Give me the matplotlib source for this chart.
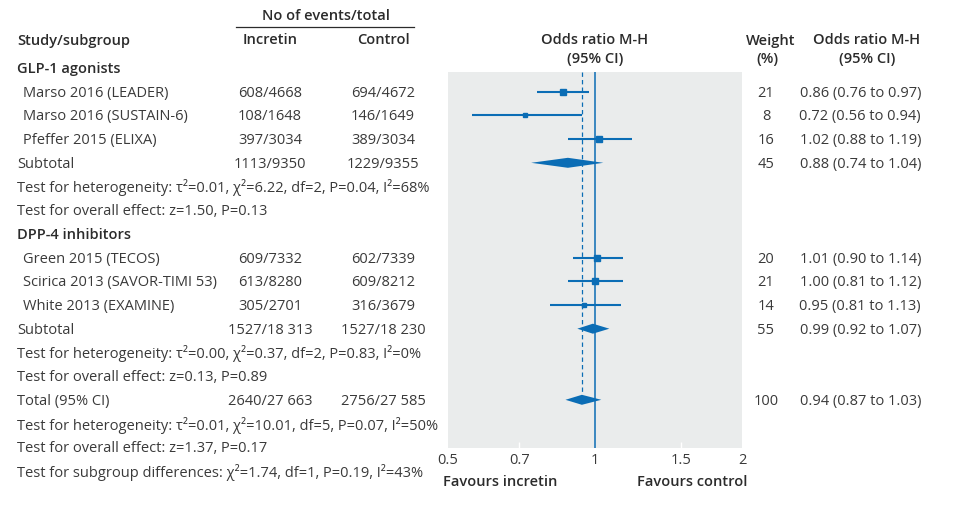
import matplotlib
matplotlib.use("Agg")
import matplotlib.pyplot as plt
from matplotlib.patches import Polygon
from matplotlib.ticker import NullLocator, FixedLocator, FixedFormatter

plt.rcParams['font.family'] = ['Open Sans', 'DejaVu Sans']

# ---------------- data ----------------
studies = ["Marso 2016 (LEADER)", "Marso 2016 (SUSTAIN-6)", "Pfeffer 2015 (ELIXA)",
           "Green 2015 (TECOS)", "Scirica 2013 (SAVOR-TIMI 53)", "White 2013 (EXAMINE)"]
study_group = [0, 0, 0, 1, 1, 1]
incretin = ["608/4668", "108/1648", "397/3034", "609/7332", "613/8280", "305/2701"]
control = ["694/4672", "146/1649", "389/3034", "602/7339", "609/8212", "316/3679"]
weights = [21, 8, 16, 20, 21, 14]
or_est = [0.86, 0.72, 1.02, 1.01, 1.00, 0.95]
ci_lo = [0.76, 0.56, 0.88, 0.90, 0.88, 0.81]
ci_hi = [0.97, 0.94, 1.19, 1.14, 1.14, 1.13]
or_labels = ["0.86 (0.76 to 0.97)", "0.72 (0.56 to 0.94)", "1.02 (0.88 to 1.19)",
             "1.01 (0.90 to 1.14)", "1.00 (0.81 to 1.12)", "0.95 (0.81 to 1.13)"]

subgroups = ["GLP-1 agonists", "DPP-4 inhibitors"]
sub_incretin = ["1113/9350", "1527/18 313"]
sub_control = ["1229/9355", "1527/18 230"]
sub_weight = [45, 55]
sub_or = [0.88, 0.99]
sub_lo = [0.74, 0.92]
sub_hi = [1.04, 1.07]
sub_labels = ["0.88 (0.74 to 1.04)", "0.99 (0.92 to 1.07)"]
sub_het = ["Test for heterogeneity: τ²=0.01, χ²=6.22, df=2, P=0.04, I²=68%",
           "Test for heterogeneity: τ²=0.00, χ²=0.37, df=2, P=0.83, I²=0%"]
sub_effect = ["Test for overall effect: z=1.50, P=0.13",
              "Test for overall effect: z=0.13, P=0.89"]

total_incretin = "2640/27 663"
total_control = "2756/27 585"
total_weight = 100
total_or = 0.94
total_lo = 0.87
total_hi = 1.03
total_label = "0.94 (0.87 to 1.03)"
total_het = "Test for heterogeneity: τ²=0.01, χ²=10.01, df=5, P=0.07, I²=50%"
total_effect = "Test for overall effect: z=1.37, P=0.17"
subgroup_diff = "Test for subgroup differences: χ²=1.74, df=1, P=0.19, I²=43%"

xticks = [0.5, 0.7, 1, 1.5, 2]
xtick_labels = ["0.5", "0.7", "1", "1.5", "2"]

# ---------------- style ----------------
W, H = 971, 522
BLUE = "#0b6db5"
GRAY = "#eaecec"
TXT = "#3a3a3a"
HDR = "#2b2b2b"
FS = 10.5

fig = plt.figure(figsize=(W / 100, H / 100), dpi=100)
tax = fig.add_axes([0, 0, 1, 1])
tax.set_xlim(0, W)
tax.set_ylim(H, 0)
tax.axis('off')

PL, PR, PT, PB = 448, 742, 72, 448
fax = fig.add_axes([PL / W, 1 - PB / H, (PR - PL) / W, (PB - PT) / H])
fax.set_xscale('log')
fax.set_xlim(0.5, 2)
fax.set_ylim(PB, PT)
fax.set_facecolor(GRAY)
for s in fax.spines.values():
    s.set_visible(False)
fax.set_yticks([])
fax.xaxis.set_minor_locator(NullLocator())
fax.xaxis.set_major_locator(FixedLocator(xticks))
fax.xaxis.set_major_formatter(FixedFormatter(xtick_labels))
fax.tick_params(axis='x', direction='in', length=4, width=1, color='white',
                pad=3.5, labelsize=FS, labelcolor=TXT)
for t, v in zip(fax.xaxis.get_major_ticks(), xticks):
    if v in (0.5, 1, 2):
        t.tick1line.set_visible(False)

ROW0, DY = 68, 23.7
TOFF = 1.5  # text vertical nudge (px)


def ry(i):
    return ROW0 + DY * i


X_NAME, X_IND, X_INC, X_CON, X_W, X_OR = 17, 23, 270, 383, 766, 921


def txt(x, y, s, ha='left', bold=False, color=None):
    tax.text(x, y + TOFF, s, ha=ha, va='center', fontsize=FS,
             fontweight='semibold' if bold else 'normal',
             color=color or (HDR if bold else TXT))


# headers
txt(326, 14, "No of events/total", ha='center', bold=True)
tax.plot([236, 414], [27, 27], color=HDR, lw=0.9)
txt(X_NAME, 39, "Study/subgroup", bold=True)
txt(X_INC, 39, "Incretin", ha='center', bold=True)
txt(X_CON, 39, "Control", ha='center', bold=True)
txt(595, 39, "Odds ratio M-H", ha='center', bold=True)
txt(595, 57, "(95% CI)", ha='center', bold=True)
txt(771, 39, "Weight", ha='center', bold=True)
txt(767, 57, "(%)", ha='center', bold=True)
txt(867, 39, "Odds ratio M-H", ha='center', bold=True)
txt(867, 57, "(95% CI)", ha='center', bold=True)


def diamond(y, lo, est, hi, h=5):
    fax.add_patch(Polygon([(lo, y), (est, y - h), (hi, y), (est, y + h)],
                          closed=True, color=BLUE, lw=0, zorder=4))


row = 0
for g, gname in enumerate(subgroups):
    txt(X_NAME, ry(row), gname, bold=True)
    row += 1
    for k in range(len(studies)):
        if study_group[k] != g:
            continue
        y = ry(row)
        txt(X_IND, y, studies[k])
        txt(X_INC, y, incretin[k], ha='center')
        txt(X_CON, y, control[k], ha='center')
        txt(X_W, y, str(weights[k]), ha='center')
        txt(X_OR, y, or_labels[k], ha='right')
        fax.plot([ci_lo[k], ci_hi[k]], [y, y], color=BLUE, lw=1.5,
                 solid_capstyle='butt', zorder=3)
        fax.plot([or_est[k]], [y], marker='s', linestyle='none', color=BLUE,
                 markersize=0.95 * weights[k] ** 0.5, zorder=4)
        row += 1
    y = ry(row)
    txt(X_NAME, y, "Subtotal")
    txt(X_INC, y, sub_incretin[g], ha='center')
    txt(X_CON, y, sub_control[g], ha='center')
    txt(X_W, y, str(sub_weight[g]), ha='center')
    txt(X_OR, y, sub_labels[g], ha='right')
    diamond(y, sub_lo[g], sub_or[g], sub_hi[g])
    row += 1
    txt(X_NAME, ry(row), sub_het[g])
    row += 1
    txt(X_NAME, ry(row), sub_effect[g])
    row += 1

y = ry(row)
txt(X_NAME, y, "Total (95% CI)")
txt(X_INC, y, total_incretin, ha='center')
txt(X_CON, y, total_control, ha='center')
txt(X_W, y, str(total_weight), ha='center')
txt(X_OR, y, total_label, ha='right')
diamond(y, total_lo, total_or, total_hi)
y_total = y
row += 1
txt(X_NAME, ry(row), total_het)
row += 1
txt(X_NAME, ry(row), total_effect)
row += 1
txt(X_NAME, ry(row), subgroup_diff)

# reference lines
fax.axvline(1, color=BLUE, lw=1.1, zorder=2)
fax.plot([total_or, total_or], [PT, y_total - 5], color=BLUE, lw=0.9,
         linestyle=(0, (3.5, 2.5)), zorder=2)

# favours labels
txt(443, 481, "Favours incretin", bold=True)
txt(747, 481, "Favours control", ha='right', bold=True)

fig.savefig("out.png", dpi=100)
